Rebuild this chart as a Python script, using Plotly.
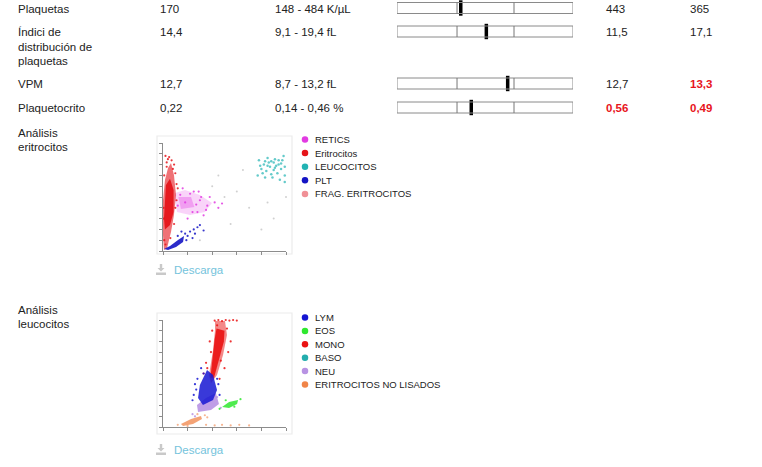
import plotly.graph_objects as go

W, H = 762, 467
FONT = "Arial, Liberation Sans, sans-serif"
TXT = "#222222"
ALERT = "#e8141c"

# ---- tabla de plaquetas ----
param_names = ["Plaquetas", "Índici de<br>distribución de<br>plaquetas", "VPM", "Plaquetocrito"]
results = [170, 14.4, 12.7, 0.22]
ref_low = [148, 9.1, 8.7, 0.14]
ref_high = [484, 19.4, 13.2, 0.46]
units = ["K/µL", "fL", "fL", "%"]
prev_1 = [443, 11.5, 12.7, 0.56]
prev_2 = [365, 17.1, 13.3, 0.49]
prev_1_alert = [False, False, False, True]
prev_2_alert = [False, False, True, True]

# ---- Análisis eritrocitos (coordenadas en % de los ejes) ----
eri_names = ["RETICS", "Eritrocitos", "LEUCOCITOS", "PLT", "FRAG. ERITROCITOS"]
eri_colors = ["#e23be2", "#e5141a", "#22b3b3", "#1414c4", "#f09096"]

eritro_x = [6.5, 8.9, 10.6, 8.9, 6.5, 3.3, 0.8, 0, 0, 1.6, 4.1]
eritro_y = [81.5, 70.4, 51.9, 33.3, 17.6, 2.8, 0.9, 14.8, 47, 65.7, 76.9]
eritro_core_x = [0.8, 2.4, 5.7, 8.6, 8.6, 5.7, 1.6]
eritro_core_y = [30, 61, 67, 56.5, 36, 24, 20]
eritro_pts_x = [2, 4, 7, 9, 3, 10, 11, 12, 1, 0.5, 0.5, 1, 2, 9, 10, 6, 5, 8, 11, 3]
eritro_pts_y = [88, 85, 84, 80, 78, 72, 62, 58, 70, 40, 30, 10, 6, 25, 40, 12, 87, 76, 47, 82]

retics_x = [9.8, 17.9, 30.1, 39.8, 34.1, 22, 11.4, 9.8]
retics_y = [53.7, 56.5, 51.9, 44.4, 36.1, 33.3, 36.1, 47.2]
retics_core_x = [12.5, 22.8, 25.5, 14.6]
retics_core_y = [50, 50, 40.7, 38.9]
retics_pts_x = [30, 36, 42, 45, 28, 20, 16, 25, 38, 48, 33, 14, 18, 22, 27, 31, 35, 12, 24, 29]
retics_pts_y = [47, 42, 45, 40, 36, 30, 58, 55, 50, 44, 33, 52, 45, 53, 43, 50, 38, 42, 36, 55]

leuco_pts_x = [78, 82, 85, 88, 91, 94, 97, 99, 80, 84, 87, 90, 93, 96, 99, 77, 83, 89, 95, 99,
               86, 92, 79, 98, 88, 81, 94, 90, 85, 96, 83, 91]
leuco_pts_y = [84, 80, 86, 83, 85, 80, 84, 78, 76, 74, 78, 75, 72, 76, 70, 70, 68, 68, 66, 64,
               82, 79, 79, 88, 71, 72, 84, 82, 79, 81, 83, 77]

plt_x = [0.8, 5.7, 12.2, 17.1, 16.3, 10.6, 4.1]
plt_y = [1.9, 4.6, 10.2, 13.9, 8.3, 3.7, 0.9]
plt_pts_x = [18, 20, 22, 25, 28, 30, 15, 24, 19, 26, 12, 33]
plt_pts_y = [16, 14, 18, 20, 22, 24, 18, 12, 10, 16, 14, 19]

eri_stray_x = [40, 50, 60, 70, 55, 80, 90, 65, 45, 100, 30, 85]
eri_stray_y = [60, 50, 55, 40, 25, 20, 30, 75, 70, 50, 10, 45]

# ---- Análisis leucocitos ----
leu_names = ["LYM", "EOS", "MONO", "BASO", "NEU", "ERITROCITOS NO LISADOS"]
leu_colors = ["#1616d2", "#2fe82f", "#ea1212", "#23adad", "#b893e3", "#f08448"]

mono_x = [42.3, 50.4, 52, 48.8, 43.9, 39, 37.4, 40.7, 42.3]
mono_y = [99, 99, 86, 67.3, 48.6, 41, 48.6, 72, 90.7]
mono_core_x = [43.5, 50, 49.5, 45.5, 41.5, 38.5, 40.5, 42]
mono_core_y = [92, 90, 80, 62, 46, 46, 65, 82]
mono_pts_x = [42, 45, 48, 51, 54, 57, 60, 38, 40, 55, 53, 35, 50, 46, 33, 52, 36, 47, 44, 39]
mono_pts_y = [99.5, 100, 99, 100, 99.5, 100, 99.5, 80, 90, 80, 70, 60, 55, 45, 50, 92, 55, 62, 95, 70]

lym_x = [35.8, 40.7, 43.9, 40.7, 32.5, 28.5, 30]
lym_y = [53.3, 48.6, 34.6, 25.2, 20.6, 27.1, 39.3]
lym_pts_x = [26, 28, 25, 45, 46, 31, 24, 27, 33, 44]
lym_pts_y = [40, 45, 30, 40, 30, 55, 25, 35, 50, 45]

neu_x = [43, 45.5, 39, 28.5, 27.6, 35]
neu_y = [31.8, 21.5, 15.9, 14, 20.6, 27.1]
neu_pts_x = [24, 47, 26, 44]
neu_pts_y = [12, 18, 10, 28]

eos_x = [48, 53.7, 61, 60.2, 53.7]
eos_y = [18.7, 23.4, 25.2, 21.5, 17.8]
eos_pts_x = [46, 63, 58, 51]
eos_pts_y = [17, 26, 19, 25]

orange_x = [14.6, 22.8, 30.9, 31.7, 24.4, 16.3]
orange_y = [2.8, 7.5, 10.3, 7.5, 2.8, 0.9]
orange_pts_x = [12, 34, 36, 20, 28, 35, 42, 48, 55, 62, 70]
orange_pts_y = [2, 11, 9, 1, 12, 2, 1.5, 2, 1.5, 2, 1.5]


def fmt(v):
    return ("%g" % v).replace(".", ",")


def rgba(hex_color, a):
    h = hex_color.lstrip("#")
    return "rgba(%d,%d,%d,%.2f)" % (int(h[0:2], 16), int(h[2:4], 16), int(h[4:6], 16), a)


fig = go.Figure()
annotations = []
shapes = []


def text(x, y, s, size=11.5, color=TXT, bold=False, xref="x", yref="y"):
    annotations.append(dict(
        x=x, y=y, xref=xref, yref=yref, text="<b>%s</b>" % s if bold else s,
        showarrow=False, xanchor="left", yanchor="middle",
        font=dict(family=FONT, size=size, color=color)))


# ---- filas de la tabla ----
row_y = [8.5, 32, 84, 108]
bar_lo, bar_hi = -1.053, 2.035
for i, name in enumerate(param_names):
    for k, line in enumerate(name.split("<br>")):
        text(16, row_y[i] + k * 14.5, line)
    text(158, row_y[i], fmt(results[i]))
    text(273, row_y[i], "%s - %s %s" % (fmt(ref_low[i]), fmt(ref_high[i]), units[i]))
    text(604, row_y[i], fmt(prev_1[i]), color=ALERT if prev_1_alert[i] else TXT, bold=prev_1_alert[i])
    text(688, row_y[i], fmt(prev_2[i]), color=ALERT if prev_2_alert[i] else TXT, bold=prev_2_alert[i])
    yb = row_y[i] - 0.5
    shapes.append(dict(type="rect", xref="x2", yref="y", x0=bar_lo, x1=bar_hi,
                       y0=yb - 5.5, y1=yb + 5.5, line=dict(color="#8a8a8a", width=1)))
    for d in (0, 1):
        shapes.append(dict(type="line", xref="x2", yref="y", x0=d, x1=d,
                           y0=yb - 5.5, y1=yb + 5.5, line=dict(color="#777777", width=1)))

pos = [(results[i] - ref_low[i]) / (ref_high[i] - ref_low[i]) for i in range(len(results))]
fig.add_trace(go.Scatter(
    x=pos, y=[r - 0.5 for r in row_y], xaxis="x2", yaxis="y", mode="markers",
    marker=dict(symbol="line-ns", size=11, line=dict(width=3.5, color="black")),
    hoverinfo="skip", cliponaxis=False))


def cloud(xs, ys, color, alpha, ax):
    fig.add_trace(go.Scatter(x=xs, y=ys, mode="lines", fill="toself",
                             fillcolor=rgba(color, alpha), line=dict(width=0),
                             xaxis="x" + ax, yaxis="y" + ax, hoverinfo="skip"))


def dots(xs, ys, color, ax, size=2.5, alpha=0.85):
    fig.add_trace(go.Scatter(x=xs, y=ys, mode="markers",
                             marker=dict(size=size, color=rgba(color, alpha), line=dict(width=0)),
                             xaxis="x" + ax, yaxis="y" + ax, hoverinfo="skip", cliponaxis=False))


# ---- nube eritrocitos ----
dots(eri_stray_x, eri_stray_y, "#c8c8c8", "3", size=2)
cloud(retics_x, retics_y, eri_colors[0], 0.22, "3")
cloud(retics_core_x, retics_core_y, eri_colors[0], 0.35, "3")
dots(retics_pts_x, retics_pts_y, eri_colors[0], "3", size=2.2)
dots(leuco_pts_x, leuco_pts_y, eri_colors[2], "3", size=2.5, alpha=0.7)
cloud(eritro_x, eritro_y, eri_colors[1], 0.6, "3")
cloud(eritro_core_x, eritro_core_y, eri_colors[1], 0.95, "3")
dots(eritro_pts_x, eritro_pts_y, eri_colors[1], "3", size=2.2)
cloud(plt_x, plt_y, eri_colors[3], 0.9, "3")
dots(plt_pts_x, plt_pts_y, eri_colors[3], "3", size=2.2)

# ---- nube leucocitos ----
dots(orange_pts_x, orange_pts_y, leu_colors[5], "4", size=2.2, alpha=0.6)
cloud(orange_x, orange_y, leu_colors[5], 0.75, "4")
cloud(mono_x, mono_y, leu_colors[2], 0.5, "4")
cloud(mono_core_x, mono_core_y, leu_colors[2], 0.9, "4")
dots(mono_pts_x, mono_pts_y, leu_colors[2], "4", size=2.2)
cloud(neu_x, neu_y, leu_colors[4], 0.9, "4")
dots(neu_pts_x, neu_pts_y, leu_colors[4], "4", size=2.2)
cloud(lym_x, lym_y, leu_colors[0], 0.85, "4")
dots(lym_pts_x, lym_pts_y, leu_colors[0], "4", size=2.2)
cloud(eos_x, eos_y, leu_colors[1], 0.85, "4")
dots(eos_pts_x, eos_pts_y, leu_colors[1], "4", size=2.2)

# ---- bloques de gráfico: etiqueta, marco, leyenda, descarga ----
blocks = [
    (["Análisis", "eritrocitos"], 133, (136, 254), (143, 251), 139.5, 13.6, eri_names, eri_colors, "3"),
    (["Análisis", "leucocitos"], 310, (313, 434), (320, 427), 317.5, 13.4, leu_names, leu_colors, "4"),
]
legend_x, legend_y = [], []
legend_c = []
for label, ly, frame, axis_px, leg_y0, leg_dy, names, colors, ax in blocks:
    for k, line in enumerate(label):
        text(16, ly + k * 14, line)
    shapes.append(dict(type="rect", xref="x", yref="y", x0=157, x1=292, y0=frame[0], y1=frame[1],
                       line=dict(color="#ececec", width=1.2), layer="below"))
    for j, n in enumerate(names):
        legend_x.append(305)
        legend_y.append(leg_y0 + j * leg_dy)
        legend_c.append(colors[j])
        text(313, leg_y0 + j * leg_dy, n, size=9.5)
    dy = frame[1] + 16
    text(172, dy, "Descarga", size=11.5, color="#74c3dc")
    icon = "#c9c9c9"
    shapes.append(dict(type="path", xref="x", yref="y", fillcolor=icon, line=dict(width=0),
                       path="M 159.8 %f L 162.2 %f L 162.2 %f L 164.5 %f L 161 %f L 157.5 %f L 159.8 %f Z"
                            % (dy - 6, dy - 6, dy - 2, dy - 2, dy + 1.5, dy - 2, dy - 2)))
    shapes.append(dict(type="rect", xref="x", yref="y", fillcolor=icon, line=dict(width=0),
                       x0=156, x1=166, y0=dy + 2.5, y1=dy + 5))
    top, bottom = axis_px
    axis_style = dict(showline=True, linecolor="#8c8c8c", linewidth=1, ticks="outside",
                      ticklen=3, tickcolor="#8c8c8c", showticklabels=False, showgrid=False,
                      zeroline=False, fixedrange=True)
    fig.layout["xaxis" + ax] = dict(domain=[163 / W, 286 / W], range=[0, 100], dtick=20,
                                    anchor="y" + ax, **axis_style)
    fig.layout["yaxis" + ax] = dict(domain=[(H - bottom) / H, (H - top) / H], range=[0, 100],
                                    dtick=10, anchor="x" + ax, **axis_style)

fig.add_trace(go.Scatter(x=legend_x, y=legend_y, xaxis="x", yaxis="y", mode="markers",
                         marker=dict(size=6.5, color=legend_c), hoverinfo="skip"))

fig.update_layout(
    width=W, height=H, margin=dict(l=0, r=0, t=0, b=0),
    paper_bgcolor="white", plot_bgcolor="rgba(0,0,0,0)", showlegend=False,
    xaxis=dict(domain=[0, 1], range=[0, W], visible=False, fixedrange=True),
    yaxis=dict(domain=[0, 1], range=[H, 0], visible=False, fixedrange=True),
    xaxis2=dict(domain=[397 / W, 573 / W], range=[bar_lo, bar_hi], anchor="y",
                visible=False, fixedrange=True),
    annotations=annotations, shapes=shapes,
)

fig.write_html("out.html", config={"displayModeBar": False},
               post_script="document.body.style.margin='0px';")
